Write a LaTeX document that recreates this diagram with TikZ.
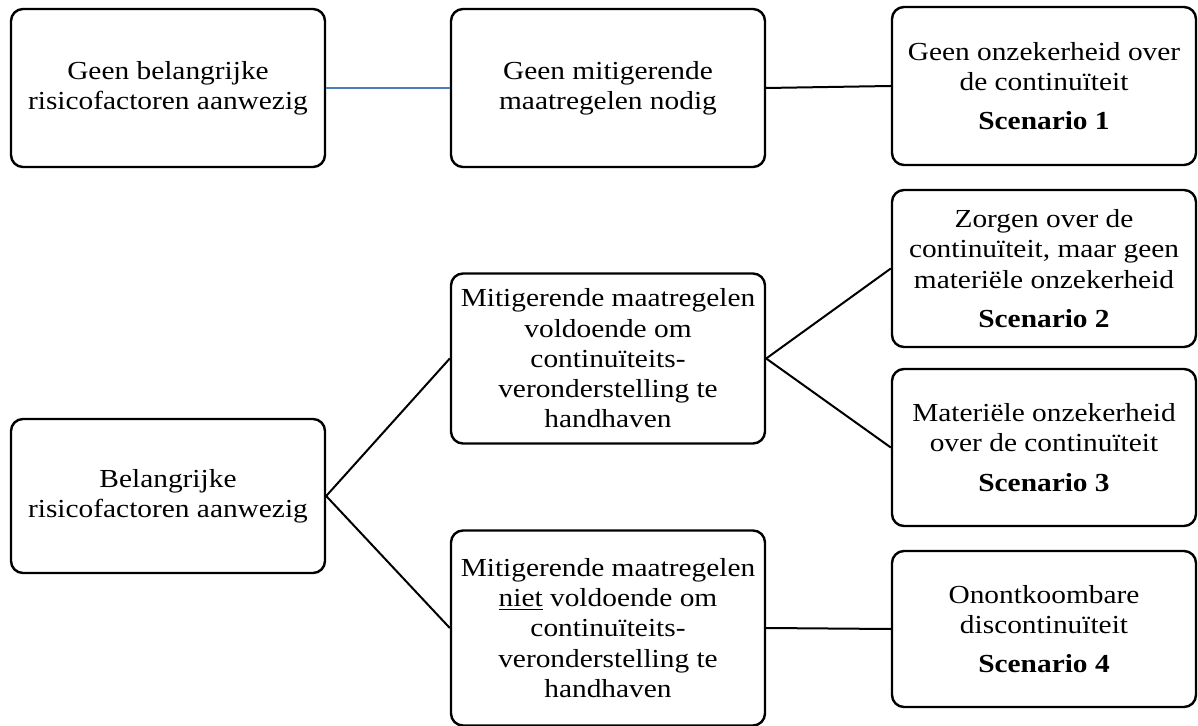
\documentclass[tikz,border=0pt]{standalone}
\usepackage{fontspec}
\setmainfont{Liberation Serif}[FakeStretch=1.13]
\usetikzlibrary{positioning}
\definecolor{connblue}{HTML}{4A7EBB}
\tikzset{
  box/.style={draw=black, line width=1.2pt, rounded corners=6pt, align=center,
    inner sep=0pt, font=\fontsize{13}{15.15}\selectfont},
  conn/.style={draw=black, line width=1pt},
}
\newcommand{\scen}[1]{\\[4.5pt]\textbf{Scenario #1}}
\begin{document}
\begin{tikzpicture}[x=0.5pt, y=-0.5pt]
\useasboundingbox (0,0) rectangle (1198,726);
% top row
\node[box, minimum width=157pt, minimum height=79pt] (A) at (168,88) {Geen belangrijke\\risicofactoren aanwezig};
\node[box, minimum width=157pt, minimum height=79pt] (B) at (608,88) {Geen mitigerende\\maatregelen nodig};
\node[box, minimum width=152pt, minimum height=79pt] (C) at (1044,86) {Geen onzekerheid over\\de continuïteit\scen{1}};
% right column
\node[box, minimum width=152pt, minimum height=78.5pt] (S2) at (1044,268.5) {Zorgen over de\\continuïteit, maar geen\\materiële onzekerheid\scen{2}};
\node[box, minimum width=152pt, minimum height=78.5pt] (S3) at (1044,447.5) {Materiële onzekerheid\\over de continuïteit\scen{3}};
\node[box, minimum width=152pt, minimum height=78pt] (S4) at (1044,629) {Onontkoombare\\discontinuïteit\scen{4}};
% middle column
\node[box, minimum width=157pt, minimum height=85pt] (M1) at (608,358.5) {Mitigerende maatregelen\\voldoende om\\continuïteits-\\veronderstelling te\\handhaven};
\node[box, minimum width=157pt, minimum height=97.5pt] (M2) at (608,628) {Mitigerende maatregelen\\\underline{niet} voldoende om\\continuïteits-\\veronderstelling te\\handhaven};
% left
\node[box, minimum width=157pt, minimum height=77pt] (Bel) at (168,496) {Belangrijke\\risicofactoren aanwezig};
% connectors
\draw[conn, draw=connblue] (A.east) -- (B.west);
\draw[conn] (B.east) -- (C.west);
\draw[conn] (Bel.east) -- (M1.west);
\draw[conn] (Bel.east) -- (M2.west);
\draw[conn] (M1.east) -- (S2.west);
\draw[conn] (M1.east) -- (S3.west);
\draw[conn] (M2.east) -- (S4.west);
\end{tikzpicture}
\end{document}
